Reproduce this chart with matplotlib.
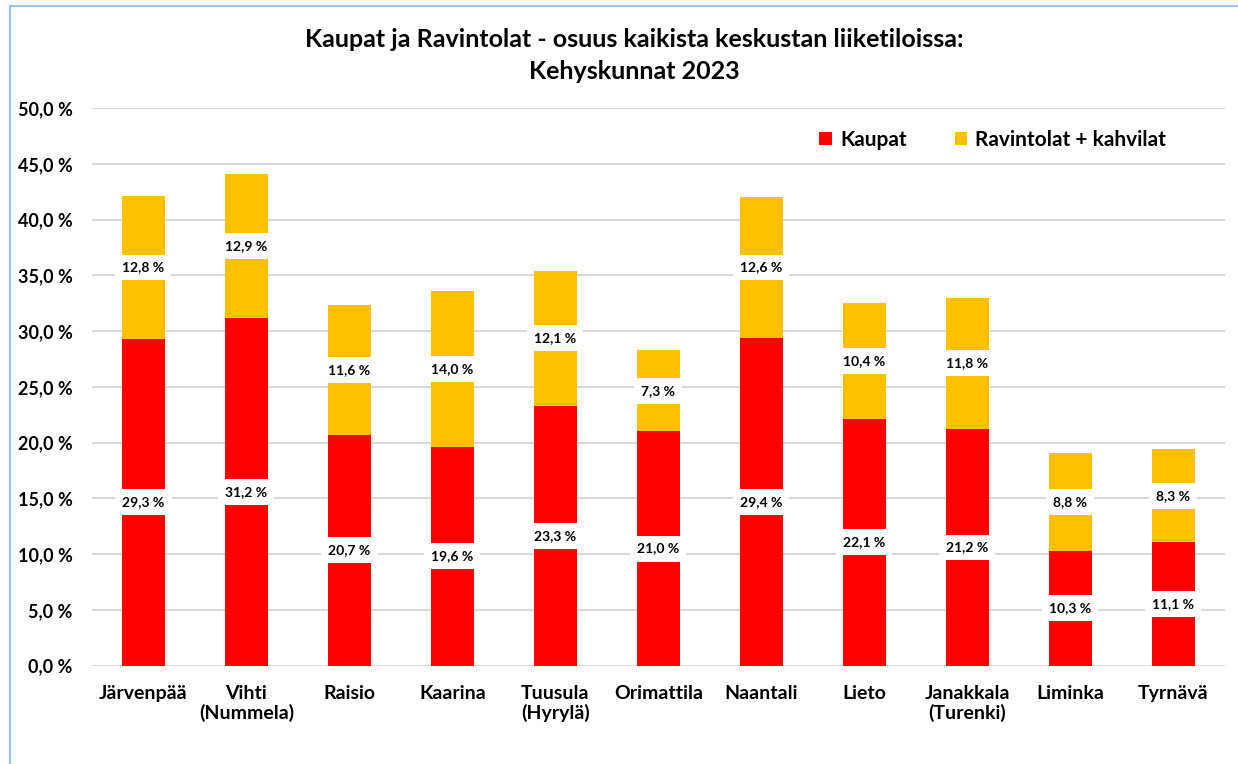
import numpy as np
import matplotlib.pyplot as plt
from matplotlib.lines import Line2D

plt.rcParams['font.family'] = ['Lato', 'DejaVu Sans']
plt.rcParams['font.weight'] = 'bold'

kunnat = ["Järvenpää", "Vihti\n(Nummela)", "Raisio", "Kaarina", "Tuusula\n(Hyrylä)",
          "Orimattila", "Naantali", "Lieto", "Janakkala\n(Turenki)", "Liminka", "Tyrnävä"]
kaupat = [29.3, 31.2, 20.7, 19.6, 23.3, 21.0, 29.4, 22.1, 21.2, 10.3, 11.1]
ravintolat = [12.8, 12.9, 11.6, 14.0, 12.1, 7.3, 12.6, 10.4, 11.8, 8.8, 8.3]
yticks = np.arange(0, 50.1, 5)

RED = "#FF0000"
YELLOW = "#FFC000"

fig = plt.figure(figsize=(12.38, 7.64), dpi=100)
ax = fig.add_axes([0.0743, 0.1287, 0.915, 0.7299])

x = np.arange(len(kunnat))
ax.bar(x, kaupat, width=0.42, color=RED, label="Kaupat", zorder=2)
ax.bar(x, ravintolat, width=0.42, bottom=kaupat, color=YELLOW,
       label="Ravintolat + kahvilat", zorder=2)

def fmt(v):
    return f"{v:.1f}".replace(".", ",") + " %"

box = dict(boxstyle="square,pad=0.5", fc="white", ec="none")
for i in range(len(kunnat)):
    ax.text(x[i], kaupat[i] / 2, fmt(kaupat[i]), ha="center", va="center",
            fontsize=10, fontweight="bold", bbox=box, zorder=3)
    ax.text(x[i], kaupat[i] + ravintolat[i] / 2, fmt(ravintolat[i]), ha="center",
            va="center", fontsize=10, fontweight="bold", bbox=box, zorder=3)

ax.set_xlim(-0.5, len(kunnat) - 0.5)
ax.set_ylim(0, 50)
ax.set_yticks(yticks)
ax.set_yticklabels([fmt(v) for v in yticks], fontsize=13, fontweight="bold")
ax.set_xticks(x)
ax.set_xticklabels(kunnat, fontsize=14, fontweight="bold", linespacing=1.15)
ax.tick_params(axis="y", length=0, pad=14)
ax.tick_params(axis="x", length=0, pad=14)
ax.grid(axis="y", color="#D9D9D9", linewidth=1.5, zorder=0)
ax.set_axisbelow(True)
for s in ax.spines.values():
    s.set_visible(False)

fig.text(0.512, 0.927, "Kaupat ja Ravintolat - osuus kaikista keskustan liiketiloissa:\nKehyskunnat 2023",
         ha="center", va="center", fontsize=18, fontweight="bold", linespacing=1.45)

ax.legend(loc="upper right", bbox_to_anchor=(0.965, 0.995), ncol=2, frameon=False,
          fontsize=15, handlelength=0.6, handleheight=0.6, columnspacing=2.3,
          handletextpad=0.4)

fig.add_artist(Line2D([10 / 1238, 10 / 1238], [0, 1 - 6 / 764], color="#9DC3E6", lw=1.5))
fig.add_artist(Line2D([10 / 1238, 1], [1 - 6 / 764, 1 - 6 / 764], color="#9DC3E6", lw=1.5))

fig.savefig("out.png", dpi=100)
